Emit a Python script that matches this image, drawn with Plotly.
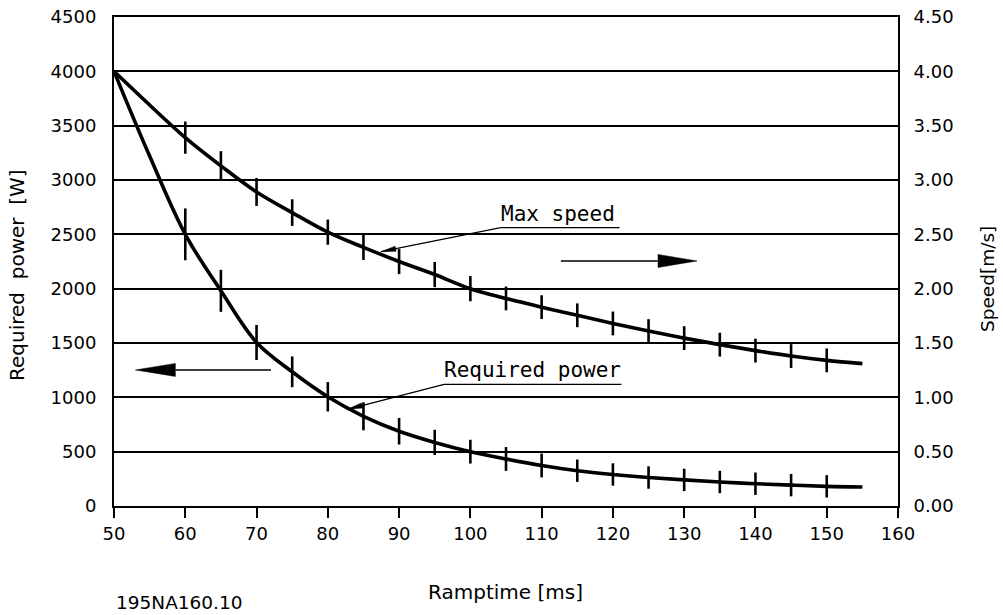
import plotly.graph_objects as go

# ---------------- data ----------------
ramp_ms = [50, 55, 60, 65, 70, 75, 80, 85, 90, 95, 100, 105, 110, 115, 120,
           125, 130, 135, 140, 145, 150, 155]
power_w = [4000, 3220, 2500, 1980, 1505, 1235, 1005, 825, 688, 585, 500, 433,
           373, 325, 290, 262, 240, 221, 205, 192, 181, 175]
speed_mps = [4.00, 3.69, 3.39, 3.13, 2.89, 2.70, 2.52, 2.38, 2.25, 2.13, 2.00,
             1.91, 1.83, 1.755, 1.68, 1.61, 1.545, 1.485, 1.43, 1.38, 1.34, 1.31]
marked_ms = [60, 65, 70, 75, 80, 85, 90, 95, 100, 105, 110, 115, 120, 125,
             130, 135, 140, 145, 150]

x_ticks = [50, 60, 70, 80, 90, 100, 110, 120, 130, 140, 150, 160]
power_ticks = [0, 500, 1000, 1500, 2000, 2500, 3000, 3500, 4000, 4500]
speed_ticks = [0, 0.5, 1.0, 1.5, 2.0, 2.5, 3.0, 3.5, 4.0, 4.5]

# ---------------- styles ----------------
power_tick_len = [37, 30, 25, 22, 21, 20, 19, 18, 17, 17, 17, 16, 16, 16, 16, 16, 16, 16, 16]
speed_tick_len = [23, 21, 20, 19, 18, 18, 18, 18, 18, 17, 17, 17, 17, 17, 17, 17, 17, 17, 17]

FONT = "DejaVu Sans"
MONO = "DejaVu Sans Mono"
W, H = 1003, 615
ML, MR, MT, MB = 114, 105, 17, 109
PW, PH = W - ML - MR, H - MT - MB
X0, X1 = 50, 160
Y0, Y1 = 0, 4500
PXX = PW / (X1 - X0)
PXY = PH / (Y1 - Y0)

mk_x = [x for x in ramp_ms if x in marked_ms]
mk_p = [p for x, p in zip(ramp_ms, power_w) if x in marked_ms]
mk_s = [s for x, s in zip(ramp_ms, speed_mps) if x in marked_ms]

fig = go.Figure()
fig.add_trace(go.Scatter(x=ramp_ms, y=power_w, mode="lines",
                         line=dict(color="black", width=3.6, shape="spline", smoothing=1.0),
                         showlegend=False, hoverinfo="skip"))
fig.add_trace(go.Scatter(x=mk_x, y=mk_p, mode="markers",
                         marker=dict(symbol="line-ns", size=power_tick_len, color="#000000",
                                     opacity=1, line=dict(color="#000000", width=2.6)),
                         showlegend=False, hoverinfo="skip"))
fig.add_trace(go.Scatter(x=ramp_ms, y=speed_mps, mode="lines", yaxis="y2",
                         line=dict(color="black", width=3.6, shape="spline", smoothing=1.0),
                         showlegend=False, hoverinfo="skip"))
fig.add_trace(go.Scatter(x=mk_x, y=mk_s, mode="markers", yaxis="y2",
                         marker=dict(symbol="line-ns", size=speed_tick_len, color="#000000",
                                     opacity=1, line=dict(color="#000000", width=2.6)),
                         showlegend=False, hoverinfo="skip"))


def head(tip, tail, length_px, half_px):
    tx, ty = tip[0] * PXX, tip[1] * PXY
    sx, sy = tail[0] * PXX, tail[1] * PXY
    dx, dy = tx - sx, ty - sy
    n = (dx * dx + dy * dy) ** 0.5
    ux, uy = dx / n, dy / n
    bx, by = tx - ux * length_px, ty - uy * length_px
    px_, py_ = -uy * half_px, ux * half_px
    pts = [(tx, ty), (bx + px_, by + py_), (bx - px_, by - py_)]
    pts = [(a / PXX, b / PXY) for a, b in pts]
    return "M{},{} L{},{} L{},{} Z".format(*[v for p in pts for v in p])


shapes = []
annots = []

# callout: Max speed
ms_tail = (104.26, 2561)
ms_tip = (87.45, 2340)
shapes.append(dict(type="line", xref="x", yref="y", x0=ms_tail[0], y0=ms_tail[1],
                   x1=120.93, y1=ms_tail[1], line=dict(color="black", width=1.3)))
shapes.append(dict(type="line", xref="x", yref="y", x0=ms_tail[0], y0=ms_tail[1],
                   x1=ms_tip[0], y1=ms_tip[1], line=dict(color="black", width=1.3)))
shapes.append(dict(type="path", xref="x", yref="y", path=head(ms_tip, ms_tail, 15, 2.6),
                   fillcolor="black", line=dict(color="black", width=0.5)))
annots.append(dict(x=ms_tail[0], y=ms_tail[1], xref="x", yref="y", text="Max speed",
                   showarrow=False, xanchor="left", yanchor="bottom", xshift=-2, yshift=0,
                   font=dict(family=MONO, size=21, color="black")))

# callout: Required power
rp_tail = (96.31, 1120)
rp_tip = (82.76, 890)
shapes.append(dict(type="line", xref="x", yref="y", x0=rp_tail[0], y0=rp_tail[1],
                   x1=121.21, y1=rp_tail[1], line=dict(color="black", width=1.3)))
shapes.append(dict(type="line", xref="x", yref="y", x0=rp_tail[0], y0=rp_tail[1],
                   x1=rp_tip[0], y1=rp_tip[1], line=dict(color="black", width=1.3)))
shapes.append(dict(type="path", xref="x", yref="y", path=head(rp_tip, rp_tail, 15, 2.6),
                   fillcolor="black", line=dict(color="black", width=0.5)))
annots.append(dict(x=rp_tail[0], y=rp_tail[1], xref="x", yref="y", text="Required power",
                   showarrow=False, xanchor="left", yanchor="bottom", xshift=-2, yshift=0,
                   font=dict(family=MONO, size=21, color="black")))

# direction arrows
r_tail, r_tip = (112.7, 2255), (131.8, 2255)
shapes.append(dict(type="line", xref="x", yref="y", x0=r_tail[0], y0=r_tail[1],
                   x1=126.3, y1=r_tail[1], line=dict(color="black", width=1.5)))
shapes.append(dict(type="path", xref="x", yref="y", path=head(r_tip, r_tail, 39, 6.5),
                   fillcolor="black", line=dict(color="black", width=0.5)))
l_tail, l_tip = (72.03, 1252), (53.0, 1252)
shapes.append(dict(type="line", xref="x", yref="y", x0=l_tail[0], y0=l_tail[1],
                   x1=58.6, y1=l_tail[1], line=dict(color="black", width=1.5)))
shapes.append(dict(type="path", xref="x", yref="y", path=head(l_tip, l_tail, 40, 6.5),
                   fillcolor="black", line=dict(color="black", width=0.5)))

# axis titles and drawing number
annots.append(dict(x=(17 - ML) / PW, y=(506 - 275) / PH, xref="paper", yref="paper",
                   text="Required  power  [W]", textangle=-90, showarrow=False,
                   xanchor="center", yanchor="middle",
                   font=dict(family=FONT, size=20, color="black")))
annots.append(dict(x=(987 - ML) / PW, y=(506 - 279) / PH, xref="paper", yref="paper",
                   text="Speed[m/s]", textangle=-90, showarrow=False,
                   xanchor="center", yanchor="middle",
                   font=dict(family=FONT, size=18.5, color="black")))
annots.append(dict(x=(505 - ML) / PW, y=(506 - 592) / PH, xref="paper", yref="paper",
                   text="Ramptime [ms]", showarrow=False,
                   xanchor="center", yanchor="middle",
                   font=dict(family=FONT, size=20, color="black")))
annots.append(dict(x=0, y=(506 - 602) / PH, xref="paper", yref="paper",
                   text="195NA160.10", showarrow=False,
                   xanchor="left", yanchor="middle",
                   font=dict(family=FONT, size=18.5, color="black")))

fig.update_layout(
    width=W, height=H,
    margin=dict(l=ML, r=MR, t=MT, b=MB, pad=0, autoexpand=False),
    paper_bgcolor="white", plot_bgcolor="white",
    font=dict(family=FONT, size=18, color="black"),
    showlegend=False,
    shapes=shapes, annotations=annots,
    xaxis=dict(range=[X0, X1], tickvals=x_ticks, ticks="outside", ticklen=10,
               tickwidth=1.8, tickcolor="black", showline=True, linecolor="black",
               linewidth=2, mirror=True, showgrid=False, zeroline=False,
               automargin=False,
               tickfont=dict(family=FONT, size=18, color="black")),
    yaxis=dict(range=[Y0, Y1], tickvals=power_ticks, ticks="", showline=True,
               linecolor="black", linewidth=2, showgrid=True, gridcolor="black",
               gridwidth=1.6, zeroline=False, ticklabelstandoff=12, automargin=False,
               tickfont=dict(family=FONT, size=18, color="black")),
    yaxis2=dict(range=[0, 4.5], tickvals=speed_ticks, tickformat=".2f",
                overlaying="y", side="right", ticks="", showline=True,
                linecolor="black", linewidth=2, showgrid=False, zeroline=False,
                ticklabelstandoff=10, automargin=False,
                tickfont=dict(family=FONT, size=18, color="black")),
)

fig.write_html("out.html")
